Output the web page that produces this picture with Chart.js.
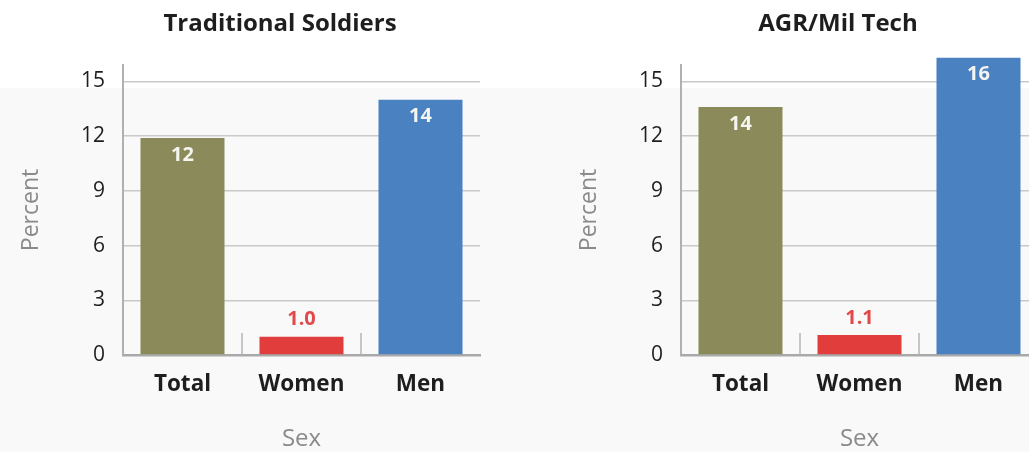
<!DOCTYPE html>
<html>
<head>
<meta charset="utf-8">
<script src="https://cdn.jsdelivr.net/npm/chart.js@4.4.1/dist/chart.umd.min.js"></script>
<style>
  html, body { margin: 0; padding: 0; }
  body {
    width: 1029px; height: 452px; overflow: hidden; position: relative;
    background: linear-gradient(to bottom, #ffffff 0, #ffffff 88px, #f9f9f9 88px, #f9f9f9 100%);
  }
  .panel { position: absolute; top: 0; width: 560px; height: 452px; }
  #left { left: 0; }
  #right { left: 558px; }
</style>
</head>
<body>
<div class="panel" id="left"><canvas id="tradChart" width="560" height="452"></canvas></div>
<div class="panel" id="right"><canvas id="agrChart" width="560" height="452"></canvas></div>
<script>
// Percent by sex, two groups
const categories = ['Total', 'Women', 'Men'];
const tradValues = [11.9, 1.0, 14.0];
const agrValues = [13.6, 1.1, 16.3];
const yTicks = [0, 3, 6, 9, 12, 15];

const barColors = ['#8b8a5a', '#e03d3c', '#4a81c1'];
const FONT = '"Open Sans", "Noto Sans", sans-serif';

function fmtValue(v) {
    return v < 10 ? v.toFixed(1) : String(Math.round(v));
}

// panel heading, centred on the whole canvas (not the plot area)
const panelHeading = {
    id: 'panelHeading',
    afterDraw(chart, args, opts) {
        const ctx = chart.ctx;
        ctx.save();
        ctx.font = 'bold 24px ' + FONT;
        ctx.fillStyle = '#1e1e1e';
        ctx.textAlign = 'center';
        ctx.textBaseline = 'middle';
        ctx.fillText(opts.text, chart.width / 2, 24);
        ctx.restore();
    }
};

// value labels: inside the bar for tall bars, above it for short ones
const barLabels = {
    id: 'barLabels',
    afterDatasetsDraw(chart) {
        const ctx = chart.ctx;
        const meta = chart.getDatasetMeta(0);
        const data = chart.data.datasets[0].data;
        ctx.save();
        ctx.font = 'bold 20px ' + FONT;
        ctx.textAlign = 'center';
        ctx.textBaseline = 'middle';
        meta.data.forEach((bar, i) => {
            const v = data[i];
            if (v < 5) {
                ctx.fillStyle = '#e24a4a';
                ctx.fillText(fmtValue(v), bar.x, bar.y - 17);
            } else {
                ctx.fillStyle = '#f4f4f0';
                ctx.fillText(fmtValue(v), bar.x, bar.y + 17);
            }
        });
        ctx.restore();
    }
};

// short separators between categories on the baseline
const catSeparators = {
    id: 'catSeparators',
    afterDatasetsDraw(chart) {
        const ctx = chart.ctx;
        const x = chart.scales.x;
        const bottom = chart.chartArea.bottom;
        ctx.save();
        ctx.strokeStyle = '#b4b4b4';
        ctx.lineWidth = 1.5;
        for (let i = 1; i < categories.length; i++) {
            const px = (x.getPixelForTick(i - 1) + x.getPixelForTick(i)) / 2;
            ctx.beginPath();
            ctx.moveTo(px, bottom - 22);
            ctx.lineTo(px, bottom);
            ctx.stroke();
        }
        ctx.restore();
    }
};

function makeChart(id, title, values) {
    return new Chart(document.getElementById(id), {
        type: 'bar',
        data: {
            labels: categories,
            datasets: [{
                data: values,
                backgroundColor: barColors,
                borderWidth: 0,
                categoryPercentage: 1,
                barPercentage: 0.706,
                clip: false
            }]
        },
        options: {
            responsive: false,
            animation: false,
            layout: { padding: { left: 0, right: 80, top: 65, bottom: 0 } },
            plugins: {
                legend: { display: false },
                tooltip: { enabled: false },
                title: { display: false },
                panelHeading: { text: title }
            },
            scales: {
                x: {
                    grid: { display: false },
                    border: { display: true, color: '#a9a9a9', width: 2.5 },
                    ticks: {
                        color: '#1e1e1e',
                        padding: 8,
                        font: { family: FONT, size: 22.5, weight: 'bold' }
                    },
                    title: {
                        display: true,
                        text: 'Sex',
                        color: '#8a8a8a',
                        font: { family: FONT, size: 24, lineHeight: 1.1 },
                        padding: { top: 0, bottom: 0 }
                    },
                    afterFit(scale) { scale.height = 97; }
                },
                y: {
                    min: 0,
                    max: 15.9,
                    afterBuildTicks(scale) {
                        scale.ticks = yTicks.map(v => ({ value: v }));
                    },
                    grid: {
                        drawTicks: false,
                        color: ctx => ctx.tick && ctx.tick.value === 0 ? 'rgba(0,0,0,0)' : '#c9c9c9',
                        lineWidth: 1.5
                    },
                    border: { display: true, color: '#b0b0b0', width: 2 },
                    ticks: {
                        color: '#1e1e1e',
                        padding: 18,
                        font: { family: FONT, size: 21 }
                    },
                    title: {
                        display: true,
                        text: 'Percent',
                        color: '#8a8a8a',
                        font: { family: FONT, size: 23 },
                        padding: { top: 18, bottom: 0 }
                    },
                    afterFit(scale) { scale.width = 123; }
                }
            }
        },
        plugins: [panelHeading, barLabels, catSeparators]
    });
}

makeChart('tradChart', 'Traditional Soldiers', tradValues);
makeChart('agrChart', 'AGR/Mil Tech', agrValues);
</script>
</body>
</html>
